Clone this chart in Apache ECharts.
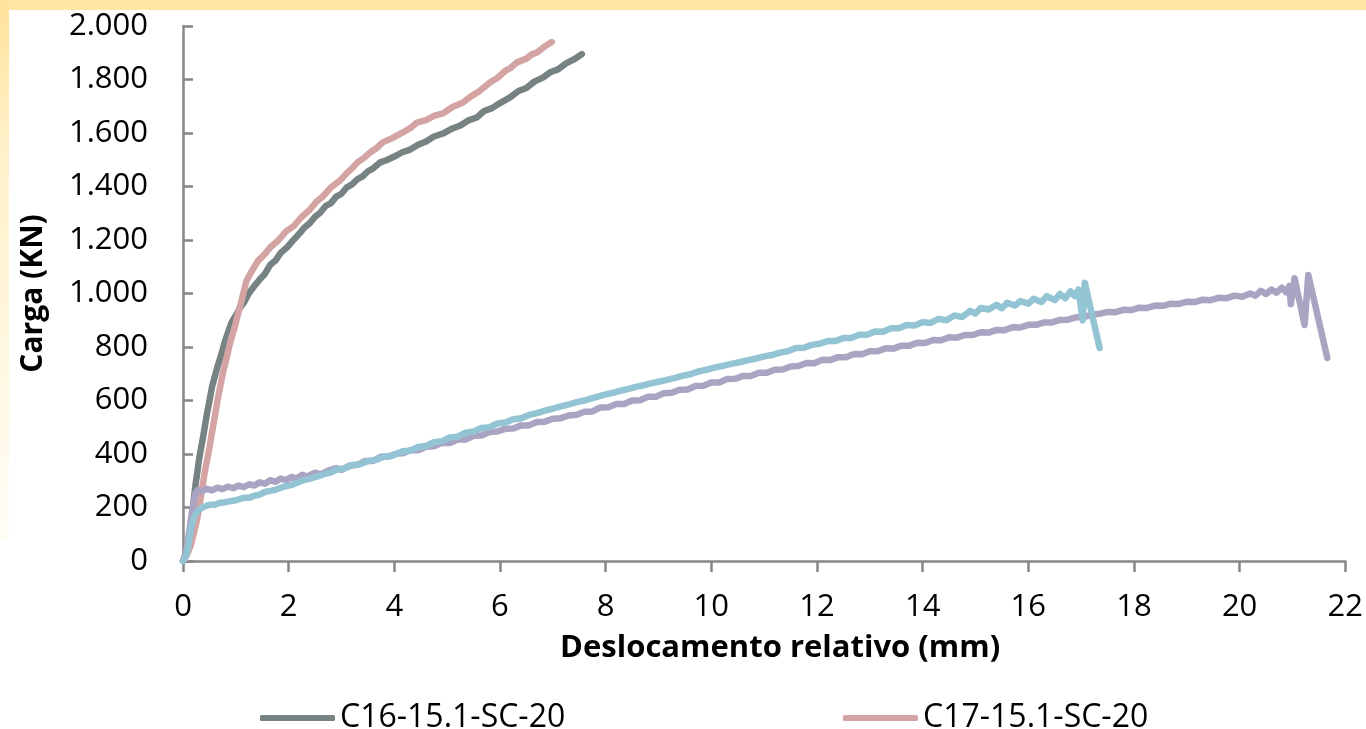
<!DOCTYPE html>
<html>
<head>
<meta charset="utf-8">
<script src="https://cdn.jsdelivr.net/npm/echarts@6/dist/echarts.min.js"></script>
<style>html,body{margin:0;padding:0;background:#fff}#c{width:1366px;height:729px}</style>
</head>
<body>
<div id="c"></div>
<script>
// ---- data (x: Deslocamento relativo mm, y: Carga kN) ----
const seriesNames = ['C16-15.1-SC-20', 'C17-15.1-SC-20', 'C18-15.1-SC-20', 'C19-15.1-SC-20'];
const legendNames = ['C16-15.1-SC-20', 'C17-15.1-SC-20'];
const yTickValues = [0,200,400,600,800,1000,1200,1400,1600,1800,2000];
const yTickLabels = ['0','200','400','600','800','1.000','1.200','1.400','1.600','1.800','2.000'];
const xTickLabels = ['0','2','4','6','8','10','12','14','16','18','20','22'];

const c16 = [[0,0],[0.03,15],[0.06,40],[0.1,75],[0.14,120],[0.18,180],[0.21,240],[0.24,290],[0.27,330],[0.3,375],[0.33,410],[0.37,452],[0.41,498],[0.45,547],[0.5,598],[0.55,652],[0.6,688],[0.66,732],[0.72,768],[0.78,812],[0.85,853],[0.92,892],[1.0,918],[1.08,947],[1.16,968],[1.25,1002],[1.35,1028],[1.45,1052],[1.55,1073],[1.65,1107],[1.75,1123],[1.85,1152],[1.97,1173],[2.1,1202],[2.2,1223],[2.3,1247],[2.4,1263],[2.5,1287],[2.6,1303],[2.7,1327],[2.8,1338],[2.9,1362],[3.0,1373],[3.1,1397],[3.2,1408],[3.3,1427],[3.4,1438],[3.5,1457],[3.6,1468],[3.73,1490],[3.85,1498],[4.0,1512],[4.15,1528],[4.3,1538],[4.45,1556],[4.6,1568],[4.75,1587],[4.92,1598],[5.1,1617],[5.25,1628],[5.4,1647],[5.56,1658],[5.7,1682],[5.85,1693],[6.0,1712],[6.19,1733],[6.35,1757],[6.5,1768],[6.65,1792],[6.81,1807],[6.95,1827],[7.1,1838],[7.25,1860],[7.4,1875],[7.55,1895]];

const c17 = [[0,0],[0.05,15],[0.1,35],[0.15,60],[0.2,100],[0.25,140],[0.29,180],[0.33,230],[0.37,280],[0.41,330],[0.45,372],[0.5,423],[0.55,482],[0.6,538],[0.65,597],[0.7,648],[0.76,707],[0.83,763],[0.9,822],[0.97,868],[1.04,922],[1.12,983],[1.2,1047],[1.3,1083],[1.42,1122],[1.55,1148],[1.65,1172],[1.8,1198],[1.95,1232],[2.1,1253],[2.25,1287],[2.4,1313],[2.53,1344],[2.65,1363],[2.8,1397],[2.97,1422],[3.1,1450],[3.2,1468],[3.3,1490],[3.42,1506],[3.54,1527],[3.66,1543],[3.78,1565],[3.95,1580],[4.16,1602],[4.3,1618],[4.43,1639],[4.6,1648],[4.75,1664],[4.92,1673],[5.1,1697],[5.3,1714],[5.45,1737],[5.6,1755],[5.81,1789],[5.95,1806],[6.1,1832],[6.2,1843],[6.32,1864],[6.5,1878],[6.6,1894],[6.7,1901],[6.85,1924],[6.98,1940]];

const c18 = [[0,0],[0.04,20],[0.08,60],[0.12,110],[0.16,170],[0.2,220],[0.24,255],[0.28,265],[0.35,260],[0.45,270],[0.55,264],[0.65,274],[0.75,269],[0.85,278],[0.95,272],[1.05,282],[1.15,276],[1.25,287],[1.35,282],[1.45,294],[1.55,289],[1.65,302],[1.75,296],[1.85,308],[1.95,302],[2.05,314],[2.15,309],[2.25,322],[2.35,316],[2.5,330],[2.6,324],[2.75,338],[2.9,347],[3.0,341],[3.15,357],[3.3,359],[3.45,374],[3.6,374],[3.75,390],[3.9,391],[4.05,402],[4.16,403],[4.3,414],[4.45,414],[4.6,427],[4.75,429],[4.9,442],[5.05,441],[5.2,454],[5.35,454],[5.5,468],[5.65,469],[5.8,482],[5.95,484],[6.1,494],[6.25,495],[6.4,507],[6.55,507],[6.7,520],[6.85,521],[7.0,532],[7.15,534],[7.3,544],[7.45,547],[7.6,558],[7.75,559],[7.9,574],[8.05,575],[8.2,587],[8.35,587],[8.5,600],[8.65,601],[8.8,614],[8.95,614],[9.1,627],[9.25,629],[9.4,640],[9.55,641],[9.7,654],[9.85,655],[10.0,667],[10.15,667],[10.3,680],[10.45,681],[10.6,692],[10.75,692],[10.9,704],[11.05,704],[11.2,715],[11.35,716],[11.5,727],[11.65,729],[11.8,740],[11.95,739],[12.1,752],[12.25,751],[12.4,762],[12.55,762],[12.7,774],[12.85,773],[13.0,784],[13.15,784],[13.3,795],[13.45,794],[13.6,805],[13.75,805],[13.9,816],[14.05,815],[14.2,826],[14.35,825],[14.5,836],[14.65,835],[14.8,845],[14.95,845],[15.1,855],[15.25,854],[15.4,864],[15.55,863],[15.7,874],[15.85,873],[16.0,883],[16.15,883],[16.3,892],[16.45,892],[16.6,901],[16.75,902],[16.9,911],[17.05,912],[17.2,921],[17.35,924],[17.5,931],[17.65,930],[17.8,939],[17.95,938],[18.1,947],[18.25,946],[18.4,955],[18.55,954],[18.7,962],[18.85,961],[19.0,969],[19.15,968],[19.3,977],[19.45,975],[19.6,984],[19.75,982],[19.9,992],[20.05,988],[20.2,1000],[20.3,992],[20.4,1010],[20.5,998],[20.6,1015],[20.7,1003],[20.8,1022],[20.88,1005],[20.94,1028],[20.97,960],[21.04,1057],[21.23,882],[21.3,1069],[21.66,759]];

const c19 = [[0,0],[0.04,10],[0.08,35],[0.12,80],[0.16,130],[0.2,160],[0.25,180],[0.3,190],[0.38,202],[0.5,210],[0.6,210],[0.7,218],[0.8,220],[0.9,224],[1.02,228],[1.15,236],[1.25,236],[1.35,244],[1.45,248],[1.55,258],[1.65,262],[1.75,266],[1.85,274],[1.95,280],[2.05,284],[2.15,292],[2.27,302],[2.4,308],[2.55,316],[2.7,326],[2.8,331],[2.91,342],[3.05,346],[3.2,358],[3.35,362],[3.5,374],[3.65,378],[3.8,390],[3.95,393],[4.16,410],[4.3,412],[4.45,426],[4.6,430],[4.75,444],[4.9,448],[5.05,462],[5.2,465],[5.35,480],[5.5,484],[5.65,497],[5.8,500],[5.95,514],[6.1,518],[6.25,530],[6.4,534],[6.55,546],[6.7,553],[6.85,562],[7.0,570],[7.15,578],[7.3,585],[7.45,594],[7.6,600],[7.75,609],[7.95,620],[8.1,627],[8.25,635],[8.4,642],[8.55,650],[8.7,656],[8.85,664],[9.0,670],[9.16,677],[9.3,684],[9.45,692],[9.6,698],[9.78,710],[9.95,717],[10.1,725],[10.25,731],[10.4,738],[10.55,744],[10.7,751],[10.85,757],[11.0,765],[11.15,770],[11.3,779],[11.45,784],[11.6,796],[11.75,797],[11.9,808],[12.05,812],[12.2,822],[12.35,822],[12.5,834],[12.65,834],[12.8,846],[12.95,846],[13.1,858],[13.25,857],[13.4,870],[13.55,870],[13.7,882],[13.85,880],[14.0,893],[14.15,890],[14.3,905],[14.45,900],[14.6,918],[14.75,912],[14.9,935],[15.0,925],[15.1,946],[15.25,940],[15.4,958],[15.5,945],[15.6,965],[15.75,955],[15.85,972],[16.0,962],[16.1,980],[16.25,968],[16.35,990],[16.5,975],[16.6,998],[16.7,982],[16.8,1008],[16.88,990],[16.95,1015],[17.03,900],[17.07,1040],[17.35,796]];

const chartData = [c16, c17, c18, c19];
const colors = ['#778283', '#D4A3A3', '#AAA3C2', '#93C4D3'];
const drawOrder = [0, 1, 2, 3];

const FONT = 'Open Sans';
const chart = echarts.init(document.getElementById('c'), null, {renderer: 'canvas'});
chart.setOption({
  animation: false,
  backgroundColor: '#ffffff',
  graphic: [
    {type: 'rect', left: 0, top: 0, shape: {width: 1366, height: 10}, style: {fill: '#FFE6A4'}, z: -10},
    {type: 'rect', left: 0, top: 0, shape: {width: 9, height: 540},
      style: {fill: new echarts.graphic.LinearGradient(0, 0, 0, 1, [
        {offset: 0, color: '#FFE29A'}, {offset: 0.25, color: '#FFF0C6'}, {offset: 1, color: '#FFFDF6'}])}, z: -10}
  ],
  grid: {left: 183, right: 20, top: 26, bottom: 168, containLabel: false},
  legend: [
    {data: [legendNames[0]], left: 255, top: 697, icon: 'roundRect', itemWidth: 75, itemHeight: 6,
      textStyle: {fontFamily: FONT, fontSize: 32, color: '#000'}},
    {data: [legendNames[1]], left: 838, top: 697, icon: 'roundRect', itemWidth: 75, itemHeight: 6,
      textStyle: {fontFamily: FONT, fontSize: 32, color: '#000'}}
  ],
  xAxis: {
    type: 'value', min: 0, max: 22, interval: 2,
    name: 'Deslocamento relativo (mm)', nameLocation: 'middle', nameGap: 72,
    nameTextStyle: {fontFamily: FONT, fontSize: 31, fontWeight: 'bold', color: '#000', padding: [0, 0, 0, 32]},
    axisLine: {show: true, lineStyle: {color: '#878787', width: 2.5}},
    axisTick: {show: true, inside: false, length: 11, lineStyle: {color: '#878787', width: 2.5}},
    axisLabel: {fontFamily: FONT, fontSize: 31, color: '#000', margin: 31,
      formatter: function (v) { return xTickLabels[Math.round(v / 2)]; }},
    splitLine: {show: false}
  },
  yAxis: {
    type: 'value', min: 0, max: 2000, interval: 200,
    name: 'Carga (KN)', nameLocation: 'middle', nameGap: 135, nameRotate: 90,
    nameTextStyle: {fontFamily: FONT, fontSize: 30, fontWeight: 'bold', color: '#000'},
    axisLine: {show: true, lineStyle: {color: '#878787', width: 2.5}},
    axisTick: {show: true, inside: true, length: 10, lineStyle: {color: '#878787', width: 2.5}},
    axisLabel: {fontFamily: FONT, fontSize: 31, color: '#000', margin: 35,
      formatter: function (v) { return yTickLabels[yTickValues.indexOf(v)]; }},
    splitLine: {show: false}
  },
  series: drawOrder.map(function (i) {
    return {
      name: seriesNames[i], type: 'line', data: chartData[i],
      showSymbol: false, symbol: 'none', smooth: false, clip: false,
      itemStyle: {color: colors[i]},
      lineStyle: {color: colors[i], width: 6.5, cap: 'round', join: 'round'},
      z: 2 + i
    };
  })
});
</script>
</body>
</html>
